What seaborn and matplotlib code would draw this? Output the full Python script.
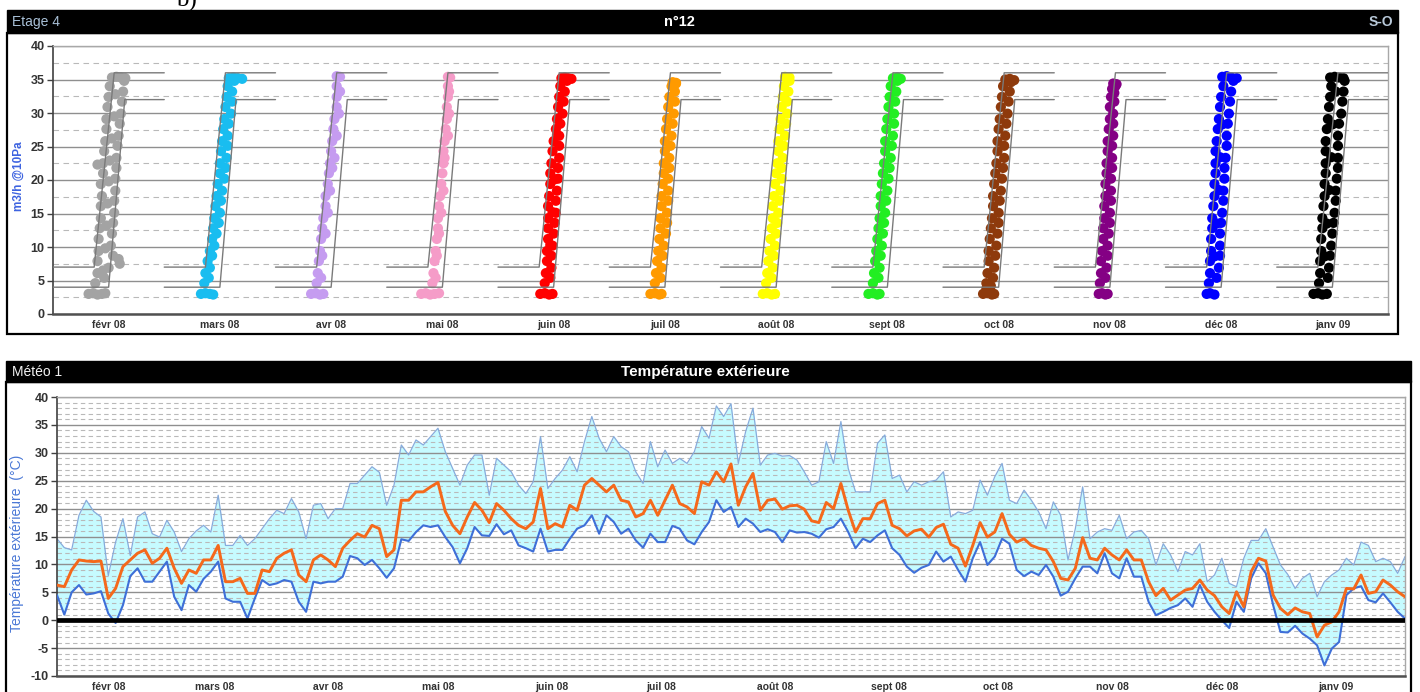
import numpy as np
import pandas as pd
import matplotlib
matplotlib.use("Agg")
import matplotlib.pyplot as plt
import seaborn as sns
from matplotlib.patches import Rectangle
from matplotlib.ticker import MultipleLocator, FixedLocator

# ---------------------------------------------------------------- data
month_labels = ["févr 08", "mars 08", "avr 08", "mai 08", "juin 08", "juil 08",
                "août 08", "sept 08", "oct 08", "nov 08", "déc 08", "janv 09"]
month_colors = ["#a3a3a3", "#19bdf0", "#c59cf0", "#f59cc8", "#ff0000", "#ff9a00",
                "#ffff00", "#22ee22", "#8e3a0c", "#840084", "#0000ff", "#000000"]

# airflow measurements per month: (position within the month in %, m3/h @10Pa)
flow_fevr = [(32,3.0),(36,3.1),(40,2.9),(44,3.0),(47,3.1),
    (38,4.6),(46,5.4),(40,6.1),(50,6.9),(45,6.5),(40,7.9),(54,8.7),(60,7.5),(59,8.2),
    (41,9.4),(52,10.2),(47,9.8),(41,11.2),(53,12.0),(42,12.8),(54,13.6),(48,13.2),
    (43,14.3),(55,15.1),(43,16.1),(55,16.9),(49,16.5),(44,17.6),(56,18.4),(43,19.4),(56,20.2),(50,19.8),
    (45,21.0),(57,21.8),(40,22.3),(45,22.5),(57,23.3),(51,22.9),(46,24.3),(58,25.1),(47,25.8),(59,26.6),(53,26.2),
    (48,27.6),(60,28.4),(48,29.1),(61,29.9),(55,29.5),(49,30.9),(62,31.7),(50,32.4),(63,33.2),(56,32.8),(51,34.0),(64,34.8),
    (53,35.3),(57,35.4),(61,35.3),(65,35.2)]
flow_mars = [(33,3.0),(37,3.1),(41,3.0),(44,2.9),
    (36,4.6),(40,5.4),(37,6.1),(41,6.9),(39,7.9),(43,8.7),(41,9.4),(45,10.2),(43,11.2),(47,12.0),
    (44,12.8),(49,13.6),(45,14.3),(50,15.1),(46,16.1),(51,16.9),(47,17.6),(52,18.4),(48,19.4),(54,20.2),
    (50,21.0),(55,21.8),(50,22.5),(56,23.3),(51,24.3),(57,25.1),(52,25.8),(57,26.6),(53,27.6),(58,28.4),
    (54,29.1),(60,29.9),(55,30.9),(61,31.7),(56,32.4),(61,33.2),(57,34.0),(63,34.8),
    (58,35.2),(62,35.3),(66,35.2),(70,35.1)]
flow_avr = [(32,3.0),(36,3.1),(40,2.9),(43,3.0),
    (37,4.6),(41,5.4),(38,6.1),(39,7.9),(42,8.7),(40,9.4),(41,11.2),(45,12.0),(42,12.8),
    (43,14.3),(47,15.1),(45,16.1),(45,17.6),(49,18.4),(47,19.4),(48,21.0),(51,21.8),(49,22.5),(53,23.3),
    (50,24.3),(51,25.8),(55,26.6),(52,27.6),(53,29.1),(57,29.9),(55,30.9),(55,32.4),(58,33.2),(55,34.0),
    (55,35.5),(58,35.4)]
flow_mai = [(31,3.0),(35,3.1),(39,2.9),(43,3.0),(47,3.1),
    (41,4.6),(44,5.4),(42,6.1),(43,7.9),(45,8.7),(44,9.4),(45,11.2),(47,12.0),(46,12.8),
    (46,14.3),(49,15.1),(47,16.1),(48,17.6),(51,18.4),(49,19.4),(50,21.0),(51,22.5),(52,23.3),(51,24.3),
    (52,25.8),(55,26.6),(53,27.6),(54,29.1),(56,29.9),(54,30.9),(55,32.4),(56,33.2),(55,34.0),
    (55,35.4),(57,35.3)]
flow_juin = [(38,3.0),(42,3.1),(46,2.9),(49,3.0),
    (42,4.6),(47,5.4),(43,6.1),(48,6.9),(44,7.9),(48,8.7),(44,9.4),(49,10.2),(47,10.3),(45,11.2),(50,12.0),
    (45,12.8),(51,13.6),(45,14.3),(52,15.1),(49,15.2),(45,16.1),(52,16.9),(46,17.6),(53,18.4),(47,19.4),(54,20.2),(51,20.1),
    (47,21.0),(54,21.8),(48,22.5),(55,23.3),(49,24.3),(55,25.1),(50,25.8),(55,26.6),(53,26.7),(52,27.6),(56,28.4),
    (53,29.1),(58,29.9),(54,30.9),(59,31.7),(55,32.4),(60,33.2),(56,34.0),(62,34.8),
    (57,35.2),(60,35.3),(63,35.2),(66,35.1)]
flow_juil = [(37,3.0),(41,3.1),(45,2.9),(47,3.0),
    (41,4.6),(46,5.4),(42,6.1),(47,6.9),(43,7.9),(48,8.7),(44,9.4),(49,10.2),(45,11.2),(51,12.0),
    (46,12.8),(52,13.6),(46,14.3),(52,15.1),(47,16.1),(53,16.9),(47,17.6),(53,18.4),(48,19.4),(53,20.2),
    (49,21.0),(54,21.8),(49,22.5),(54,23.3),(50,24.3),(55,25.1),(50,25.8),(56,26.6),(51,27.6),(57,28.4),
    (52,29.1),(58,29.9),(53,30.9),(59,31.7),(54,32.4),(59,33.2),(56,34.0),(60,34.5),
    (57,34.6),(60,34.4)]
flow_aout = [(38,3.0),(42,3.1),(46,2.9),(49,3.0),
    (41,4.6),(46,5.4),(42,6.1),(47,6.9),(43,7.9),(48,8.7),(44,9.4),(49,10.2),(45,11.2),(50,12.0),
    (46,12.8),(51,13.6),(47,14.3),(52,15.1),(47,16.1),(53,16.9),(48,17.6),(54,18.4),(49,19.4),(55,20.2),
    (50,21.0),(55,21.8),(51,22.5),(56,23.3),(52,24.3),(57,25.1),(52,25.8),(58,26.6),(53,27.6),(59,28.4),
    (54,29.1),(60,29.9),(55,30.9),(60,31.7),(56,32.4),(61,33.2),(57,34.0),(62,34.8),
    (58,35.4),(62,35.3)]
flow_sept = [(33,3.0),(37,3.1),(41,2.9),(43,3.0),
    (37,4.6),(42,5.4),(38,6.1),(43,6.9),(39,7.9),(44,8.7),(40,9.4),(45,10.2),(41,11.2),(46,12.0),
    (42,12.8),(47,13.6),(43,14.3),(48,15.1),(44,16.1),(49,16.9),(44,17.6),(50,18.4),(45,19.4),(51,20.2),
    (46,21.0),(52,21.8),(47,22.5),(53,23.3),(48,24.3),(54,25.1),(48,25.8),(55,26.6),(49,27.6),(56,28.4),
    (50,29.1),(56,29.9),(51,30.9),(57,31.7),(52,32.4),(58,33.2),(53,34.0),(59,34.8),
    (55,35.2),(59,35.3),(62,35.1)]
flow_oct = [(36,3.0),(40,3.1),(44,2.9),(46,3.0),(39,3.8),(43,4.2),
    (39,4.6),(45,5.4),(40,6.1),(46,6.9),(41,7.9),(47,8.7),(41,9.4),(48,10.2),(42,11.2),(49,12.0),
    (43,12.8),(50,13.6),(44,14.3),(50,15.1),(45,16.1),(51,16.9),(45,17.6),(52,18.4),(46,19.4),(53,20.2),
    (47,21.0),(54,21.8),(48,22.5),(55,23.3),(49,24.3),(55,25.1),(49,25.8),(56,26.6),(50,27.6),(57,28.4),
    (51,29.1),(58,29.9),(52,30.9),(59,31.7),(53,32.4),(60,33.2),(54,34.0),(61,34.6),
    (56,35.0),(60,35.1),(64,34.9)]
flow_nov = [(40,3.0),(43,3.1),(46,2.9),(48,3.0),
    (41,4.6),(46,5.4),(42,6.1),(47,6.9),(42,7.9),(48,8.7),(43,9.4),(48,10.2),(44,11.2),(49,12.0),
    (44,12.8),(50,13.6),(45,14.3),(50,15.1),(45,16.1),(51,16.9),(46,17.6),(51,18.4),(46,19.4),(51,20.2),
    (47,21.0),(52,21.8),(47,22.5),(52,23.3),(48,24.3),(52,25.1),(48,25.8),(53,26.6),(49,27.6),(53,28.4),
    (50,29.1),(53,29.9),(50,30.9),(54,31.7),(51,32.4),(54,33.0),(52,33.6),(55,34.0),
    (53,34.4),(56,34.3)]
flow_dec = [(37,3.0),(40,3.1),(44,2.9),
    (39,4.6),(46,5.4),(40,6.1),(48,6.9),(40,7.9),(49,8.7),(44,8.6),(41,9.4),(49,10.2),(41,11.2),(49,12.0),
    (42,12.8),(50,13.6),(46,13.5),(42,14.3),(51,15.1),(43,16.1),(52,16.9),(44,17.6),(52,18.4),(48,18.5),(44,19.4),(53,20.2),
    (45,21.0),(53,21.8),(45,22.5),(54,23.3),(49,23.4),(45,24.3),(55,25.1),(46,25.8),(55,26.6),(47,27.6),(56,28.4),(51,28.3),
    (48,29.1),(57,29.9),(49,30.9),(58,31.7),(50,32.4),(59,33.2),(52,34.0),(61,34.8),
    (51,35.4),(55,35.5),(59,35.3),(64,35.2)]
flow_janv = [(33,3.0),(37,3.1),(41,2.9),(45,3.0),
    (38,4.6),(46,5.4),(39,6.1),(47,6.9),(39,7.9),(48,8.7),(43,8.6),(40,9.4),(49,10.2),(40,11.2),(50,12.0),
    (41,12.8),(51,13.6),(45,13.5),(41,14.3),(52,15.1),(42,16.1),(53,16.9),(43,17.6),(53,18.4),(47,18.5),(43,19.4),(54,20.2),
    (44,21.0),(55,21.8),(44,22.5),(55,23.3),(49,23.4),(44,24.3),(55,25.1),(44,25.8),(55,26.6),(45,27.6),(56,28.4),(50,28.3),
    (46,29.1),(58,29.9),(47,30.9),(59,31.7),(48,32.4),(60,33.2),(53,33.2),(49,34.0),(61,34.8),
    (48,35.3),(52,35.4),(56,35.3),(60,35.2)]
flow_by_month = [flow_fevr, flow_mars, flow_avr, flow_mai, flow_juin, flow_juil,
                 flow_aout, flow_sept, flow_oct, flow_nov, flow_dec, flow_janv]

# reference envelopes repeated in every month (position in %, value)
env_high_pos = [0, 37, 55, 100]
env_high_val = [7, 7, 36, 36]
env_low_pos = [0, 50, 64.5, 100]
env_low_val = [4, 4, 32, 32]

# daily outdoor temperature (every second day from 18 Jan 2008)
temp_start = "2008-01-18"
temp_max = [14.6, 13.0, 12.6, 18.8, 21.5, 19.5, 18.5, 8.0, 14.0, 18.2,
            11.6, 18.5, 19.4, 15.5, 14.9, 17.9, 15.8, 12.3, 14.6, 16.0,
            17.0, 15.8, 22.4, 13.4, 13.4, 15.2, 13.4, 14.6, 16.4, 18.2,
            19.7, 19.1, 21.8, 19.4, 14.6, 20.6, 20.9, 18.2, 20.0, 20.0,
            24.5, 24.5, 26.0, 27.5, 26.5, 20.6, 24.2, 31.4, 29.6, 32.3,
            31.4, 32.9, 34.4, 30.2, 27.2, 24.2, 27.8, 29.6, 29.6, 22.4,
            29.0, 27.8, 26.6, 24.2,
            22.7, 24.8, 32.9, 23.6, 25.4, 26.9, 29.3, 26.6, 32.0, 36.5,
            32.6, 30.2, 32.9, 31.1, 30.2, 26.6, 24.5, 32.0, 27.5, 30.5,
            28.1, 29.0, 28.1, 30.2, 34.7, 32.6, 38.4, 36.5, 38.8, 28.1,
            33.8, 38.0, 27.8, 29.6, 29.9, 29.4, 29.5, 28.7, 26.6, 24.2,
            24.8, 32.0, 28.1, 35.6, 27.2, 23.0, 23.0, 23.0, 31.7, 33.2,
            25.4, 26.0, 23.0, 24.8, 24.2, 24.8, 25.1, 26.6, 18.5, 19.4,
            19.1,
            19.7, 25.1, 22.4, 25.7, 28.1, 21.5, 20.9, 23.3, 21.5, 19.4,
            16.4, 21.2, 18.8, 10.8, 16.4, 23.9, 14.6, 15.8, 16.4, 16.1,
            18.8, 14.6, 15.8, 16.1, 14.6, 9.9, 13.7, 11.7, 8.7, 12.3,
            11.7, 13.7, 6.9, 8.1, 11.1, 6.6, 6.0, 11.1, 14.3, 14.3,
            16.4, 13.1, 9.9, 8.2, 5.7, 7.5, 8.4, 4.2, 6.9, 8.1,
            9.0, 11.1, 9.9, 14.0, 13.4, 10.5, 11.1, 10.5, 8.4, 11.4]
temp_mean = [6.3, 6.0, 9.0, 10.8, 10.6, 10.5, 10.6, 3.9, 5.7, 9.6,
             10.8, 12.0, 12.6, 10.2, 11.1, 12.9, 9.3, 6.6, 9.0, 8.4,
             10.8, 10.8, 13.4, 6.9, 6.9, 7.5, 4.8, 4.8, 9.0, 8.7,
             11.1, 12.0, 12.6, 8.1, 6.9, 10.8, 11.7, 10.8, 9.6, 12.9,
             14.3, 15.5, 14.9, 17.0, 16.4, 11.4, 12.6, 21.5, 21.5, 23.0,
             23.0, 23.9, 24.7, 19.5, 17.0, 15.5, 18.5, 21.1, 19.7, 17.5,
             20.9, 19.7, 18.2, 17.0,
             16.4, 17.6, 23.6, 16.4, 17.3, 16.7, 20.6, 19.7, 24.2, 25.4,
             24.2, 23.0, 24.2, 21.5, 21.2, 18.5, 19.1, 21.5, 18.8, 21.5,
             24.2, 20.9, 20.3, 19.1, 24.8, 24.2, 26.6, 24.8, 28.0, 20.6,
             23.9, 26.3, 19.7, 21.5, 21.7, 19.9, 20.5, 20.6, 19.9, 17.8,
             17.5, 21.1, 20.0, 24.5, 19.7, 15.8, 18.2, 18.2, 20.9, 21.5,
             17.0, 16.4, 15.1, 16.0, 16.3, 14.9, 16.6, 17.2, 13.6, 12.9,
             9.7,
             13.4, 17.5, 14.9, 15.8, 19.1, 15.4, 14.0, 14.6, 13.4, 12.9,
             12.6, 10.5, 7.5, 7.2, 9.3, 14.8, 11.1, 10.8, 12.9, 11.7,
             10.8, 12.6, 10.8, 10.8, 6.9, 4.4, 5.7, 3.6, 4.5, 5.4,
             5.7, 7.2, 5.4, 4.4, 2.4, 1.2, 5.1, 2.4, 8.7, 11.1,
             10.6, 4.5, 2.1, 1.0, 2.2, 1.5, 1.2, -3.0, -0.9, -0.3,
             1.5, 5.7, 5.6, 8.1, 4.8, 5.1, 7.2, 6.3, 5.1, 4.2]
temp_min = [4.5, 1.0, 5.0, 6.3, 4.6, 4.8, 5.2, 1.2, -0.5, 2.7,
            7.9, 9.3, 6.9, 6.9, 8.7, 10.5, 4.2, 1.8, 6.3, 5.1,
            7.4, 8.7, 10.5, 3.9, 3.3, 3.3, 0.3, 3.9, 7.2, 6.3,
            6.6, 7.2, 6.9, 3.3, 1.5, 6.9, 6.6, 6.9, 6.9, 7.8,
            11.5, 11.1, 9.9, 10.8, 9.3, 7.6, 9.3, 14.5, 14.2, 15.8,
            17.0, 16.7, 17.0, 14.9, 13.1, 10.2, 12.9, 16.7, 15.2, 15.1,
            17.2, 15.4, 16.1, 13.4,
            12.9, 12.3, 16.4, 12.3, 12.6, 12.6, 14.6, 16.4, 17.0, 18.8,
            15.5, 18.8, 17.6, 15.5, 16.4, 14.3, 13.0, 15.5, 14.0, 14.0,
            16.9, 16.4, 14.3, 13.6, 15.8, 17.6, 21.5, 19.4, 20.3, 16.7,
            18.2, 17.3, 15.8, 16.3, 15.8, 14.0, 16.1, 15.7, 15.8, 15.5,
            14.8, 16.3, 16.7, 18.2, 15.8, 12.9, 14.6, 14.0, 15.2, 16.1,
            12.9, 11.7, 9.6, 8.5, 9.4, 9.9, 12.3, 10.5, 11.4, 9.0,
            6.9,
            11.1, 14.0, 9.9, 11.4, 14.6, 13.7, 9.0, 7.9, 8.7, 8.1,
            9.9, 7.8, 4.4, 5.1, 7.5, 9.6, 9.6, 8.4, 12.0, 8.4,
            7.5, 11.1, 7.8, 7.8, 3.3, 0.9, 1.5, 2.2, 2.7, 3.9,
            2.4, 6.3, 3.3, 1.5, 0.0, -1.4, 3.3, 1.5, 7.5, 10.2,
            8.4, 2.7, -2.1, -2.2, -1.0, -2.4, -3.3, -4.5, -8.1, -5.1,
            -3.9, 4.5, 5.7, 6.1, 3.6, 3.2, 4.8, 3.2, 1.5, 0.3]
temp_ticks = ["2008-02-01", "2008-03-01", "2008-04-01", "2008-05-01", "2008-06-01", "2008-07-01",
              "2008-08-01", "2008-09-01", "2008-10-01", "2008-11-01", "2008-12-01", "2009-01-01"]

# ---------------------------------------------------------------- figure
sns.set_theme(style="white")
plt.rcParams["font.family"] = ["Liberation Sans", "DejaVu Sans"]
plt.rcParams["axes.unicode_minus"] = False

W, H = 1420, 692
fig = plt.figure(figsize=(W / 100, H / 100), dpi=100)
fig.patch.set_facecolor("white")


def px_rect(x0, y0, x1, y1):
    return [x0 / W, 1 - y1 / H, (x1 - x0) / W, (y1 - y0) / H]


def fig_box(x0, y0, x1, y1, **kw):
    fig.add_artist(Rectangle((x0 / W, 1 - y1 / H), (x1 - x0) / W, (y1 - y0) / H,
                             transform=fig.transFigure, **kw))


# panel frames and black title bars
fig_box(7, 33, 1398, 334, facecolor="white", edgecolor="black", lw=1.6, zorder=-2)
fig_box(7, 10, 1398, 33, facecolor="black", edgecolor="black", lw=1, zorder=-1)
fig_box(6, 382, 1411, 700, facecolor="white", edgecolor="black", lw=1.6, zorder=-2)
fig_box(6, 361, 1411, 382, facecolor="black", edgecolor="black", lw=1, zorder=-1)

# figure caption, partly above the top edge
fig.text(186 / W, 1 - 7 / H, "b)", family=["Liberation Serif", "DejaVu Serif"],
         fontsize=18, ha="center", va="baseline", color="black")
fig.text(12 / W, 1 - 22 / H, "Etage 4", color="#a9c0d7", fontsize=10, ha="left", va="center")
fig.text(679 / W, 1 - 22 / H, "n°12", color="white", fontsize=10.5, fontweight="bold",
         ha="center", va="center")
fig.text(1393 / W, 1 - 22 / H, "S-O", color="#b8c8d8", fontsize=10, fontweight="bold",
         ha="right", va="center")
fig.text(12 / W, 1 - 372 / H, "Météo 1", color="#f2f2f2", fontsize=10, ha="left", va="center")
fig.text(705 / W, 1 - 372 / H, "Température extérieure", color="white", fontsize=11,
         fontweight="bold", ha="center", va="center")

tick_color = "#333333"


def style_axes(ax, minor_step, minor_dash):
    ax.set_facecolor("white")
    ax.yaxis.set_minor_locator(MultipleLocator(minor_step))
    ax.grid(True, which="major", axis="y", color="#8f8f8f", lw=1.0, ls="-")
    ax.grid(True, which="minor", axis="y", color="#b9b9b9", lw=0.8, ls=(0, minor_dash))
    ax.grid(False, axis="x")
    ax.set_axisbelow("line")
    for side in ("top", "right"):
        ax.spines[side].set_color("#a8a8a8")
        ax.spines[side].set_linewidth(1.0)
    ax.spines["left"].set_color("#404040")
    ax.spines["left"].set_linewidth(1.2)
    ax.spines["bottom"].set_color("#505050")
    ax.spines["bottom"].set_linewidth(1.8)
    ax.tick_params(axis="y", which="major", left=True, length=4, width=1, color="#404040",
                   labelsize=9, labelcolor=tick_color, pad=2)
    ax.tick_params(axis="y", which="minor", left=False)
    ax.tick_params(axis="x", which="both", bottom=False, length=0, labelsize=7.5,
                   labelcolor=tick_color, pad=4)


# ---------------------------------------------------------------- airflow panel
ax1 = fig.add_axes(px_rect(53, 46, 1388, 314))
rows = []
for i, pts in enumerate(flow_by_month):
    for pos, val in pts:
        rows.append((month_labels[i], i + pos / 100.0, val))
flow_df = pd.DataFrame(rows, columns=["mois", "position", "debit"])

sns.scatterplot(data=flow_df, x="position", y="debit", hue="mois", hue_order=month_labels,
                palette=month_colors, s=54, linewidth=0, legend=False, ax=ax1, zorder=2)
for i in range(len(month_labels)):
    ax1.plot([i + p / 100.0 for p in env_high_pos], env_high_val, color="#7a7a7a", lw=1.0, zorder=3)
    ax1.plot([i + p / 100.0 for p in env_low_pos], env_low_val, color="#7a7a7a", lw=1.0, zorder=3)

ax1.set_xlim(0, len(month_labels))
ax1.set_ylim(0, 40)
ax1.yaxis.set_major_locator(MultipleLocator(5))
style_axes(ax1, 2.5, (5, 4))
ax1.xaxis.set_major_locator(FixedLocator([i + 0.5 for i in range(len(month_labels))]))
ax1.set_xticklabels(month_labels, fontweight="bold")
for lab in ax1.get_yticklabels():
    lab.set_fontweight("bold")
ax1.set_xlabel("")
ax1.set_ylabel("m3/h @10Pa", color="#3d63e0", fontsize=8.5, fontweight="bold")
ax1.yaxis.set_label_coords(-0.0215, 0.513)

# ---------------------------------------------------------------- temperature panel
ax2 = fig.add_axes(px_rect(57, 397, 1405, 676))
temp_dates = pd.date_range(temp_start, periods=len(temp_max), freq="2D")
temp_df = pd.DataFrame({"date": temp_dates, "tmax": temp_max, "tmean": temp_mean, "tmin": temp_min})

ax2.fill_between(temp_df["date"], temp_df["tmin"], temp_df["tmax"], color="#c6fbff",
                 lw=0, zorder=1)
sns.lineplot(data=temp_df, x="date", y="tmax", color="#86abdc", lw=0.9, estimator=None,
             ax=ax2, zorder=2)
sns.lineplot(data=temp_df, x="date", y="tmin", color="#3e6fd8", lw=1.5, estimator=None,
             ax=ax2, zorder=3)
sns.lineplot(data=temp_df, x="date", y="tmean", color="#f5691b", lw=2.1, estimator=None,
             ax=ax2, zorder=4)
ax2.axhline(0, color="black", lw=3.4, zorder=5)

ax2.set_xlim(temp_dates[0], temp_dates[-1])
ax2.set_ylim(-10, 40)
ax2.yaxis.set_major_locator(MultipleLocator(5))
style_axes(ax2, 1, (4, 3))
tick_dates = pd.to_datetime(temp_ticks)
ax2.xaxis.set_major_locator(FixedLocator(matplotlib.dates.date2num(tick_dates)))
ax2.set_xticklabels(month_labels, fontweight="bold")
for lab in ax2.get_yticklabels():
    lab.set_fontweight("bold")
ax2.set_xlabel("")
ax2.set_ylabel("Température extérieure  (°C)", color="#4a78d6", fontsize=10)
ax2.yaxis.set_label_coords(-0.0245, 0.477)

fig.savefig("out.png", dpi=100, facecolor="white")
